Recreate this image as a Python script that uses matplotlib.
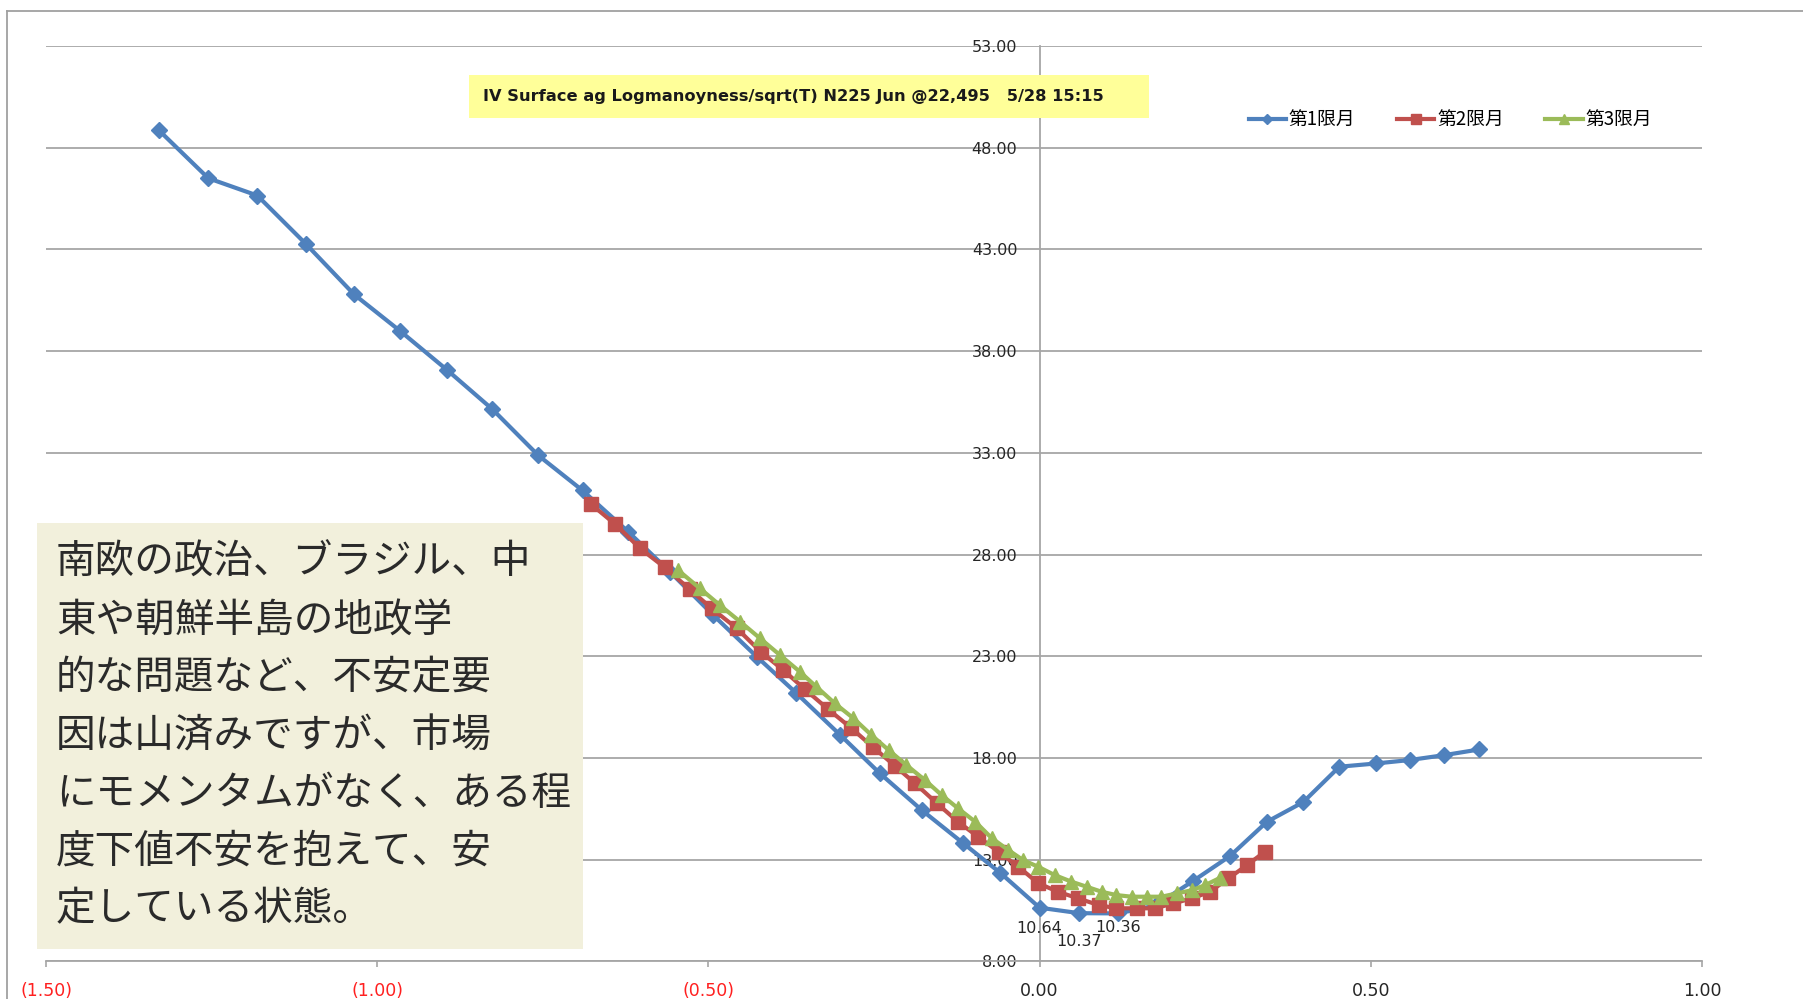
import numpy as np
import matplotlib.pyplot as plt
from matplotlib.patches import Rectangle
from matplotlib.lines import Line2D

# data
x1 = [-1.330, -1.255, -1.181, -1.108, -1.035, -0.965, -0.894, -0.826, -0.757, -0.690,
      -0.621, -0.558, -0.493, -0.427, -0.367, -0.301, -0.241, -0.178, -0.115, -0.060,
      0.000, 0.060, 0.119, 0.175, 0.232, 0.2875, 0.343, 0.398, 0.4525, 0.508,
      0.559, 0.611, 0.664]
y1 = [48.87, 46.50, 45.65, 43.28, 40.79, 38.98, 37.06, 35.14, 32.88, 31.15,
      29.12, 27.15, 25.03, 22.98, 21.18, 19.13, 17.24, 15.44, 13.80, 12.37,
      10.64, 10.37, 10.36, 10.75, 11.96, 13.18, 14.86, 15.83, 17.57, 17.73,
      17.90, 18.14, 18.42]

x2 = [-0.677, -0.641, -0.603, -0.566, -0.528, -0.495, -0.457, -0.421, -0.387, -0.354,
      -0.319, -0.284, -0.251, -0.218, -0.188, -0.155, -0.123, -0.093, -0.062, -0.032,
      -0.002, 0.028, 0.058, 0.089, 0.116, 0.147, 0.174, 0.202, 0.230, 0.257,
      0.285, 0.313, 0.340]
y2 = [30.47, 29.50, 28.30, 27.37, 26.29, 25.35, 24.37, 23.22, 22.32, 21.37,
      20.39, 19.46, 18.52, 17.60, 16.75, 15.77, 14.86, 14.13, 13.39, 12.65,
      11.84, 11.42, 11.10, 10.77, 10.61, 10.61, 10.61, 10.85, 11.10, 11.42,
      12.08, 12.73, 13.39]

x3 = [-0.546, -0.513, -0.483, -0.452, -0.422, -0.392, -0.362, -0.337, -0.309, -0.281,
      -0.254, -0.228, -0.201, -0.173, -0.148, -0.123, -0.097, -0.072, -0.047, -0.025,
      -0.002, 0.023, 0.048, 0.071, 0.094, 0.116, 0.139, 0.162, 0.184, 0.207,
      0.230, 0.250, 0.272]
y3 = [27.24, 26.34, 25.52, 24.70, 23.88, 23.06, 22.24, 21.50, 20.68, 19.95,
      19.13, 18.39, 17.65, 16.91, 16.18, 15.52, 14.86, 14.05, 13.47, 12.98,
      12.65, 12.24, 11.92, 11.67, 11.42, 11.26, 11.18, 11.18, 11.18, 11.34,
      11.50, 11.75, 12.10]

series_names = ['第1限月', '第2限月', '第3限月']
blue_label_idx = [20, 21, 22]

xticks = [-1.5, -1.0, -0.5, 0.0, 0.5, 1.0]
yticks = list(range(8, 54, 5))

title_text = 'IV Surface ag Logmanoyness/sqrt(T) N225 Jun @22,495   5/28 15:15'
comment_lines = ['南欧の政治、ブラジル、中',
                 '東や朝鮮半島の地政学',
                 '的な問題など、不安定要',
                 '因は山済みですが、市場',
                 'にモメンタムがなく、ある程',
                 '度下値不安を抱えて、安',
                 '定している状態。']

W, H = 1803, 999
grid_c = '#A6A6A6'
cjk = ['Noto Sans CJK JP', 'DejaVu Sans']

fig = plt.figure(figsize=(W / 100, H / 100), dpi=100)
ax = fig.add_axes([46 / W, 1 - 961.4 / H, 1656 / W, 915.4 / H])

ax.plot(x1, y1, color='#4F81BD', lw=3, marker='D', ms=8, label=series_names[0], zorder=3)
ax.plot(x2, y2, color='#C0504D', lw=3, marker='s', ms=9.5, label=series_names[1], zorder=4)
ax.plot(x3, y3, color='#9BBB59', lw=3, marker='^', ms=10.5, label=series_names[2], zorder=5)

# data labels on the blue minimum
offsets = [(0, -14.8), (0, -20.7), (0, -10.3)]
for i, off in zip(blue_label_idx, offsets):
    ax.annotate(f'{y1[i]:.2f}', (x1[i], y1[i]), xytext=off, textcoords='offset points',
                ha='center', va='center', fontsize=11.5, color='#262626', zorder=6)

ax.set_xlim(-1.5, 1.0)
ax.set_ylim(8, 53)
ax.set_yticks(yticks)
ax.set_yticklabels([f'{v:.2f}' for v in yticks])
ax.set_xticks(xticks)
ax.set_xticklabels([f'({abs(v):.2f})' if v < 0 else f'{v:.2f}' for v in xticks])
for lab, v in zip(ax.get_xticklabels(), xticks):
    lab.set_color('#FF2020' if v < 0 else '#262626')

ax.grid(axis='y', color=grid_c, lw=1.3, zorder=0)
ax.set_axisbelow(True)
for s in ['top', 'right']:
    ax.spines[s].set_visible(False)
ax.spines['left'].set_position(('data', 0))
ax.spines['left'].set_color(grid_c)
ax.spines['left'].set_linewidth(1.3)
ax.spines['bottom'].set_color(grid_c)
ax.spines['bottom'].set_linewidth(1.3)
ax.tick_params(axis='y', length=0, pad=16, labelsize=11.5, labelcolor='#262626')
ax.tick_params(axis='x', length=4.5, width=1.2, color=grid_c, direction='out', pad=10, labelsize=12.5)

leg = ax.legend(loc='center', bbox_to_anchor=(0.848, 0.9196), ncol=3, frameon=False,
                prop={'family': cjk, 'size': 13.5}, handlelength=2.0, handletextpad=0.15,
                columnspacing=2.2, markerscale=0.7)

# outer chart frame (top and left edges visible)
fig.add_artist(Line2D([7 / W, 1], [1 - 10.7 / H, 1 - 10.7 / H], transform=fig.transFigure, color='#A0A0A0', lw=1.3))
fig.add_artist(Line2D([7 / W, 7 / W], [0, 1 - 10.7 / H], transform=fig.transFigure, color='#A0A0A0', lw=1.3))

# yellow title box
fig.add_artist(Rectangle((469 / W, 1 - 118 / H), (1149 - 469) / W, (118 - 74.7) / H,
                         transform=fig.transFigure, fc='#FFFF99', ec='none', zorder=2))
fig.text(483 / W, 1 - 97 / H, title_text, fontsize=11.7, fontweight='bold',
         family='DejaVu Sans', va='center', ha='left', color='#1A1A1A', zorder=3)

# comment box
fig.add_artist(Rectangle((36.8 / W, 1 - 948.5 / H), (583 - 36.8) / W, (948.5 - 523) / H,
                         transform=fig.transFigure, fc='#F2F0DC', ec='none', zorder=2))
for k, line in enumerate(comment_lines):
    fig.text(56 / W, 1 - (563 + 57.7 * k) / H, line, fontsize=28.5, family=cjk,
             va='center', ha='left', color='#2A2A2A', zorder=3)

fig.savefig('out.png', dpi=100)
